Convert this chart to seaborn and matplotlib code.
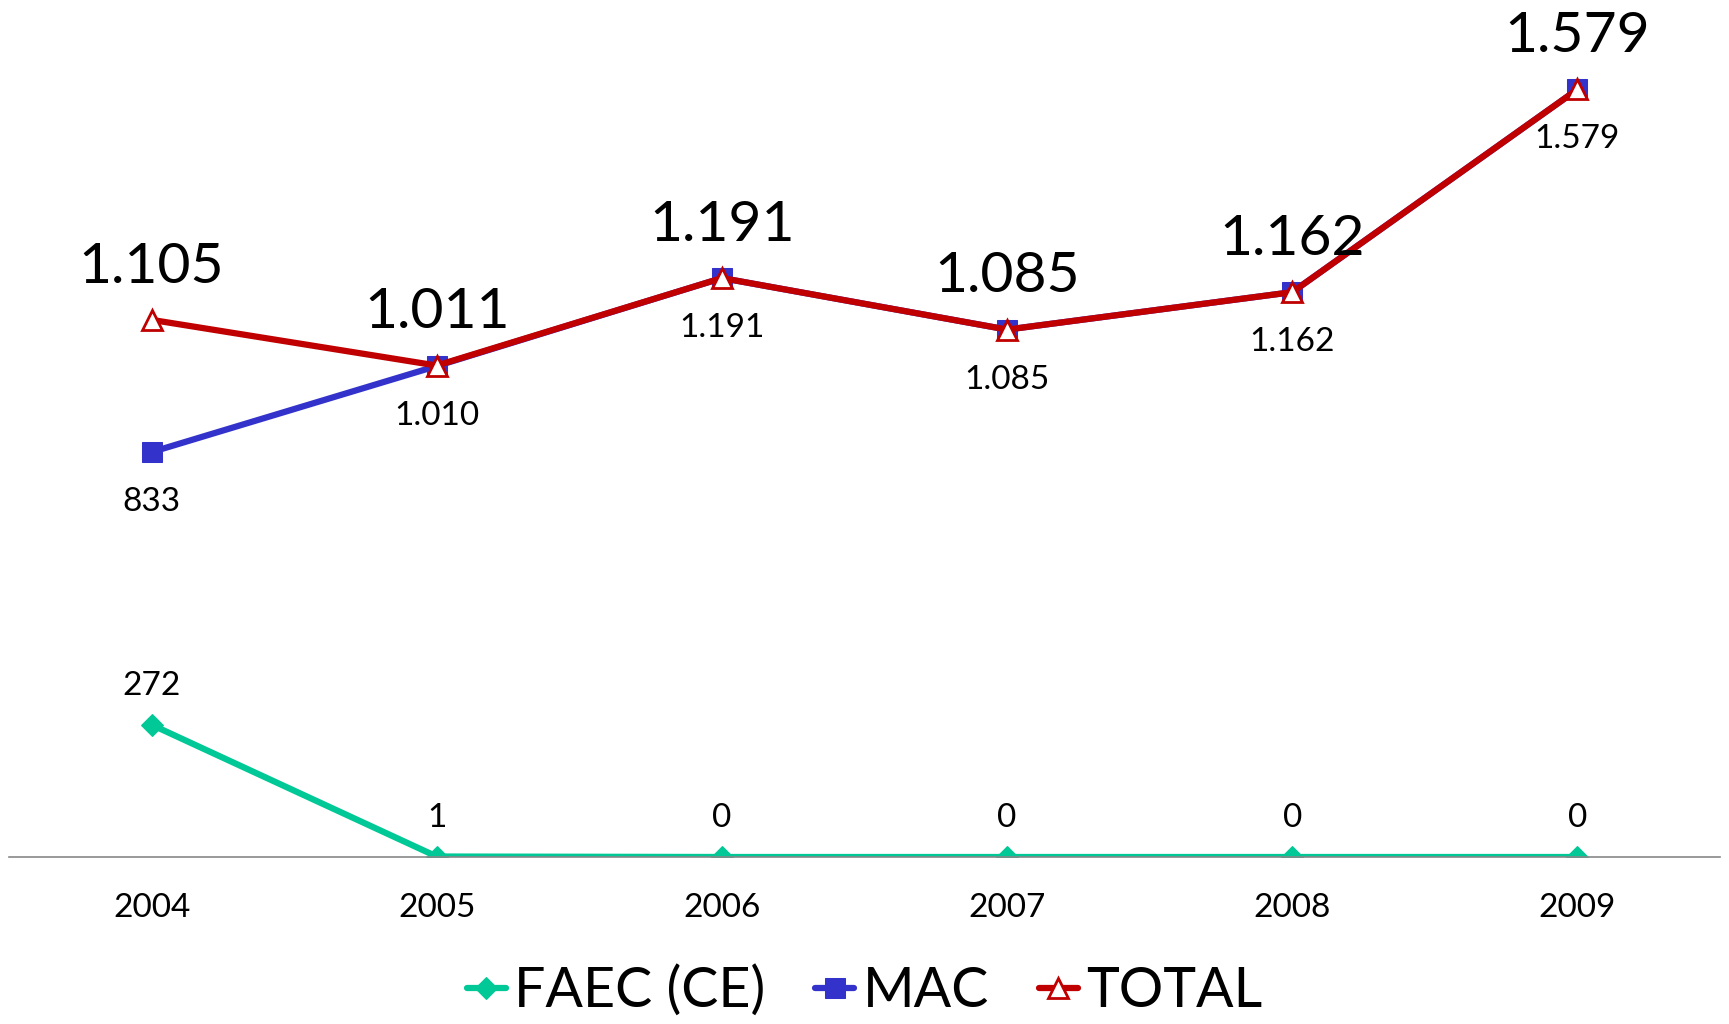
import seaborn as sns
import matplotlib.pyplot as plt
import numpy as np
import pandas as pd

# data
years = ['2004', '2005', '2006', '2007', '2008', '2009']
faec = [272, 1, 0, 0, 0, 0]
mac = [833, 1010, 1191, 1085, 1162, 1579]
total = [1105, 1011, 1191, 1085, 1162, 1579]

mac_labels = ['833', '1.010', '1.191', '1.085', '1.162', '1.579']
total_labels = ['1.105', '1.011', '1.191', '1.085', '1.162', '1.579']

sns.set_style('white')
plt.rcParams['font.family'] = ['Lato', 'DejaVu Sans']
plt.rcParams['text.color'] = 'black'
plt.rcParams['xtick.color'] = 'black'

verde = '#00C896'
azul = '#3333CC'
rojo = '#C00000'

fig = plt.figure(figsize=(17.29, 10.24), dpi=100)
ax = fig.add_axes([9 / 1729, 167 / 1024, 1711 / 1729, 857 / 1024])

x = np.arange(len(years))
df = pd.DataFrame({'x': x, 'faec': faec, 'mac': mac, 'total': total})

# lineas
sns.lineplot(data=df, x='x', y='faec', ax=ax, color=verde, lw=4.5,
             marker='D', markersize=11, markeredgecolor=verde,
             label='FAEC (CE)')
sns.lineplot(data=df, x='x', y='mac', ax=ax, color=azul, lw=4.5,
             marker='s', markersize=14, markeredgecolor=azul, label='MAC')
sns.lineplot(data=df, x='x', y='total', ax=ax, color=rojo, lw=4.5,
             marker='^', markersize=15, markerfacecolor='white',
             markeredgecolor=rojo, markeredgewidth=2, label='TOTAL')

# etiquetas de datos
for i in range(len(years)):
    ax.annotate(str(faec[i]), (x[i], faec[i]), xytext=(0, 28),
                textcoords='offset points', ha='center', va='center',
                fontsize=24, color='black')
    ax.annotate(mac_labels[i], (x[i], mac[i]), xytext=(0, -36),
                textcoords='offset points', ha='center', va='center',
                fontsize=24, color='black')
    ax.annotate(total_labels[i], (x[i], total[i]), xytext=(0, 38),
                textcoords='offset points', ha='center', va='center',
                fontsize=41, color='black')

ax.set_xlim(-0.5, 5.5)
ax.set_ylim(0, 1763)
ax.set_xticks(x)
ax.set_xticklabels(years, fontsize=24)
ax.set_yticks([])
ax.set_xlabel('')
ax.set_ylabel('')
ax.tick_params(axis='x', length=0, pad=26)
for s in ['top', 'left', 'right']:
    ax.spines[s].set_visible(False)
ax.spines['bottom'].set_color('#888888')
ax.spines['bottom'].set_linewidth(1.2)

ax.get_legend().remove()
h, l = ax.get_legend_handles_labels()
fig.legend(h, l, loc='center', bbox_to_anchor=(0.5, 33 / 1024), ncol=3,
           frameon=False, fontsize=40, handlelength=0.7, handletextpad=0.15,
           columnspacing=0.9)

fig.savefig('out.png', dpi=100)
